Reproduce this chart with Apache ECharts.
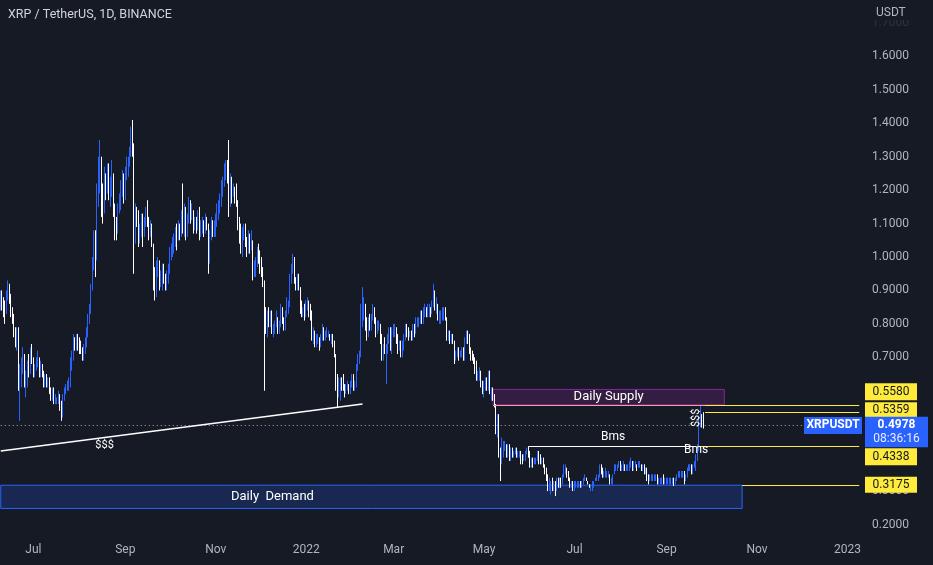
<!DOCTYPE html>
<html>
<head>
<meta charset="utf-8">
<script src="https://cdn.jsdelivr.net/npm/echarts@6/dist/echarts.min.js"></script>
<style>
html,body{margin:0;padding:0;background:#161a25;}
#chart{width:933px;height:565px;}
</style>
</head>
<body>
<div id="chart"></div>
<script>
// ---- data (daily XRP/USDT) ----
const startDate = '2021-06-09';
const endDate = '2023-01-09';
const firstOpen = 0.86;
const close = [
 // Jun 2021 (9-30)
 .88,.86,.85,.84,.89,.91,.89,.83,.82,.78,.75,.78,.62,.62,.67,.70,.63,.63,.68,.66,.71,.70,
 // Jul 2021
 .66,.67,.69,.69,.65,.67,.65,.62,.64,.62, .63,.60,.59,.60,.57,.57,.57,.58,.55,.53, .58,.60,.61,.62,.62,.68,.70,.75,.74,.75, .74,
 // Aug 2021
 .73,.72,.70,.73,.74,.77,.81,.84,.90,.98, 1.05,1.00,1.18,1.24,1.27,1.20,1.16,1.24,1.21,1.26, 1.20,1.22,1.24,1.15,1.10,1.08,1.14,1.16,1.20,1.22, 1.19,
 // Sep 2021
 1.25,1.26,1.28,1.31,1.38,1.33,1.10,1.13,1.12,1.05, 1.08,1.12,1.07,1.10,1.14,1.11,1.07,1.09,1.04,.93, .89,.97,.98,.92,.95,.95,.93,.91,.94,.96,
 // Oct 2021
 1.01,1.02,1.04,1.05,1.07,1.06,1.08,1.07,1.12,1.08, 1.14,1.08,1.11,1.15,1.12,1.13,1.09,1.10,1.09,1.12, 1.07,1.08,1.10,1.08,1.11,1.09,1.00,1.06,1.10,1.08, 1.09,
 // Nov 2021
 1.11,1.14,1.15,1.17,1.20,1.22,1.25,1.27,1.25,1.19, 1.22,1.20,1.20,1.19,1.17,1.10,1.08,1.02,1.07,1.08, 1.05,1.02,1.06,1.03,1.05,.95,.97,.98,1.01,1.00,
 // Dec 2021
 .98,.96,.93,.82,.81,.82,.80,.83,.78,.78, .80,.82,.78,.80,.84,.81,.79,.83,.85,.86, .93,.96,.99,.93,.92,.93,.91,.85,.83,.84, .83,
 // Jan 2022
 .86,.86,.84,.83,.77,.77,.75,.75,.75,.74, .76,.78,.76,.77,.77,.77,.76,.76,.74,.71, .63,.60,.63,.63,.62,.61,.60,.61,.61,.60, .62,
 // Feb 2022
 .64,.61,.62,.67,.69,.71,.83,.84,.84,.80, .77,.81,.79,.82,.84,.81,.78,.79,.80,.75, .71,.73,.71,.73,.75,.76,.73,.78,
 // Mar 2022
 .78,.78,.76,.73,.74,.72,.72,.76,.79,.78, .77,.77,.76,.79,.78,.80,.80,.81,.82,.81, .83,.84,.83,.84,.84,.83,.85,.86,.85,.85, .82,
 // Apr 2022
 .82,.82,.83,.84,.82,.76,.77,.75,.76,.75, .70,.71,.72,.70,.71,.72,.70,.75,.77,.75, .72,.71,.70,.69,.68,.64,.65,.65,.62,.60,
 // May 2022
 .62,.63,.61,.65,.60,.60,.58,.56,.48,.50, .41,.40,.43,.43,.44,.41,.43,.40,.42,.41, .42,.42,.41,.41,.41,.40,.39,.40,.41,.42, .41,
 // Jun 2022
 .38,.39,.38,.39,.39,.41,.40,.39,.39,.38, .36,.35,.31,.32,.32,.31,.32,.31,.33,.32, .33,.32,.34,.36,.36,.35,.33,.32,.32,.31,
 // Jul 2022
 .32,.32,.32,.33,.32,.33,.33,.34,.33,.32, .31,.31,.32,.33,.34,.34,.34,.37,.36,.35, .35,.35,.35,.35,.33,.33,.35,.37,.37,.37, .38,
 // Aug 2022
 .37,.37,.38,.37,.37,.37,.38,.39,.37,.38, .38,.37,.38,.38,.37,.37,.36,.37,.34,.33, .34,.34,.34,.34,.34,.33,.33,.33,.34,.33, .33,
 // Sep 2022 (1-26)
 .33,.33,.33,.33,.33,.32,.33,.34,.35,.35, .35,.35,.33,.34,.36,.37,.37,.36,.37,.38, .39,.43,.50,.53,.51,.4978
];
const high = [
 .90,.90,.88,.87,.90,.93,.92,.89,.85,.83,.79,.79,.79,.68,.70,.73,.71,.66,.69,.71,.73,.74,
 .70,.68,.70,.72,.70,.69,.68,.66,.65,.65, .64,.64,.61,.61,.61,.59,.58,.60,.59,.57, .59,.61,.62,.63,.64,.70,.72,.77,.76,.77, .77,
 .76,.75,.73,.74,.76,.79,.83,.86,.92,1.00, 1.08,1.08,1.22,1.30,1.35,1.30,1.22,1.27,1.25,1.28, 1.28,1.24,1.29,1.25,1.16,1.12,1.16,1.19,1.23,1.26, 1.25,
 1.27,1.30,1.30,1.33,1.39,1.41,1.34,1.16,1.15,1.14, 1.10,1.13,1.13,1.12,1.15,1.17,1.12,1.11,1.10,1.04, .97,.99,1.00,.99,.96,.98,.98,.95,.96,.98,
 1.03,1.04,1.06,1.07,1.09,1.10,1.11,1.10,1.14,1.22, 1.16,1.15,1.13,1.18,1.17,1.16,1.14,1.12,1.12,1.14, 1.15,1.11,1.12,1.11,1.13,1.12,1.10,1.08,1.12,1.11, 1.11,
 1.13,1.16,1.17,1.19,1.23,1.24,1.28,1.29,1.29,1.35, 1.25,1.24,1.22,1.21,1.22,1.17,1.12,1.10,1.09,1.10, 1.10,1.06,1.08,1.07,1.08,1.05,.99,1.00,1.03,1.04,
 1.02,1.00,.97,.93,.85,.84,.85,.84,.84,.80, .81,.84,.82,.81,.86,.85,.82,.84,.88,.87, .95,.98,1.01,1.00,.94,.95,.95,.91,.87,.85, .86,
 .87,.88,.87,.86,.84,.79,.78,.77,.77,.76, .77,.80,.79,.78,.79,.78,.77,.77,.77,.75, .71,.65,.64,.64,.64,.65,.62,.62,.63,.62, .63,
 .65,.65,.63,.68,.71,.72,.86,.91,.88,.86, .82,.82,.83,.83,.86,.85,.82,.81,.81,.80, .77,.74,.76,.74,.77,.79,.79,.79,
 .80,.80,.79,.77,.75,.75,.75,.77,.80,.80, .79,.78,.78,.80,.80,.82,.82,.82,.84,.84, .85,.86,.85,.86,.86,.85,.87,.92,.90,.88, .86,
 .84,.84,.85,.85,.85,.82,.78,.78,.77,.77, .75,.72,.73,.73,.72,.73,.73,.76,.78,.78, .77,.73,.72,.71,.70,.69,.66,.67,.66,.63,
 .63,.64,.64,.66,.66,.61,.61,.59,.56,.53, .53,.43,.46,.45,.45,.44,.44,.44,.43,.43, .42,.43,.43,.42,.42,.42,.41,.41,.42,.43, .4338,
 .42,.40,.40,.40,.40,.42,.42,.41,.40,.40, .38,.37,.35,.34,.33,.34,.33,.33,.34,.34, .34,.34,.35,.38,.38,.37,.36,.34,.33,.33,
 .33,.33,.33,.33,.33,.33,.34,.35,.34,.33, .32,.32,.33,.33,.34,.35,.35,.38,.38,.37, .36,.37,.36,.36,.35,.34,.35,.38,.38,.38, .39,
 .39,.38,.39,.38,.38,.38,.39,.40,.39,.39, .39,.38,.39,.39,.38,.38,.38,.37,.37,.35, .35,.35,.35,.35,.35,.35,.34,.34,.34,.35, .34,
 .34,.34,.34,.34,.34,.34,.34,.35,.36,.36, .36,.36,.36,.35,.37,.38,.38,.38,.38,.39, .41,.44,.52,.558,.53,.5359
];
const low = [
 .84,.84,.82,.80,.83,.87,.86,.82,.80,.76,.73,.72,.60,.51,.61,.65,.61,.58,.61,.64,.65,.68,
 .64,.64,.66,.67,.64,.64,.64,.61,.61,.61, .61,.59,.57,.57,.56,.56,.56,.56,.54,.51, .52,.57,.59,.60,.60,.61,.66,.69,.72,.72, .72,
 .71,.71,.69,.69,.71,.73,.76,.80,.83,.90, .96,.94,.99,1.15,1.19,1.12,1.10,1.13,1.17,1.19, 1.17,1.15,1.18,1.12,1.05,1.05,1.07,1.13,1.14,1.18, 1.16,
 1.17,1.23,1.24,1.27,1.30,1.30,.95,1.04,1.09,1.03, 1.04,1.06,1.03,1.06,1.09,1.09,1.05,1.06,1.03,.90, .87,.88,.94,.90,.91,.90,.92,.90,.90,.92,
 .95,.99,1.00,1.01,1.03,1.02,1.05,1.05,1.06,1.07, 1.06,1.05,1.06,1.10,1.10,1.11,1.07,1.08,1.07,1.08, 1.05,1.06,1.07,1.06,1.07,1.08,.95,.98,1.05,1.06, 1.06,
 1.06,1.09,1.11,1.13,1.15,1.18,1.21,1.23,1.22,1.12, 1.15,1.16,1.18,1.16,1.15,1.08,1.04,1.01,1.00,1.05, 1.03,1.00,1.01,1.01,1.02,.93,.94,.94,.97,.98,
 .95,.94,.91,.60,.77,.76,.79,.79,.77,.76, .77,.79,.77,.77,.79,.80,.78,.78,.82,.83, .85,.92,.95,.92,.90,.90,.90,.83,.82,.82, .81,
 .82,.84,.82,.81,.75,.74,.73,.73,.74,.72, .73,.75,.75,.75,.76,.76,.75,.74,.73,.70, .60,.55,.58,.57,.60,.60,.58,.59,.60,.59, .59,
 .61,.60,.60,.61,.66,.68,.70,.79,.81,.78, .75,.76,.78,.78,.81,.80,.76,.77,.78,.74, .69,.69,.71,.62,.71,.74,.72,.71,
 .76,.76,.74,.71,.72,.70,.70,.72,.75,.76, .75,.76,.75,.75,.76,.77,.79,.79,.80,.80, .80,.82,.82,.82,.82,.82,.83,.85,.84,.83, .81,
 .80,.80,.81,.81,.81,.75,.75,.74,.74,.74, .68,.69,.70,.69,.70,.70,.69,.69,.74,.74, .71,.69,.69,.68,.65,.63,.63,.63,.61,.59,
 .58,.60,.60,.60,.59,.57,.57,.55,.47,.46, .40,.33,.38,.40,.42,.40,.40,.39,.39,.40, .40,.41,.40,.40,.40,.38,.38,.39,.39,.41, .40,
 .37,.37,.37,.38,.38,.39,.38,.38,.38,.37, .35,.33,.30,.30,.29,.30,.30,.285,.30,.31, .31,.31,.32,.34,.35,.34,.33,.31,.31,.30,
 .30,.31,.31,.31,.31,.31,.32,.33,.33,.32, .31,.30,.30,.31,.33,.33,.33,.34,.35,.34, .34,.34,.34,.34,.32,.32,.32,.35,.36,.36, .37,
 .36,.36,.36,.36,.36,.36,.36,.37,.36,.36, .37,.36,.37,.37,.36,.36,.35,.35,.33,.32, .33,.33,.33,.33,.33,.32,.32,.32,.32,.32, .32,
 .32,.32,.32,.32,.32,.315,.32,.33,.34,.34, .34,.34,.32,.33,.34,.36,.36,.35,.35,.37, .36,.39,.42,.49,.49,.487
];
const monthNames = ['Jan','Feb','Mar','Apr','May','Jun','Jul','Aug','Sep','Oct','Nov','Dec'];
const labelMonths = [1,3,5,7,9,11];
const lastPrice = 0.4978;
const levels = [0.5580, 0.5359, 0.4338, 0.3175];
const supply = {from:'2022-05-07', to:'2022-10-10', top:0.604, bottom:0.558};
const demand = {from:'2021-06-09', to:'2022-10-22', top:0.3175, bottom:0.248};
const trend = {from:['2021-06-09',0.42], to:['2022-02-08',0.5605]};
const bms = {from:'2022-05-31', to:'2022-09-21', price:0.4338};

// ---- categories ----
const cats = [];
for (let t = Date.parse(startDate+'T00:00:00Z'); t <= Date.parse(endDate+'T00:00:00Z'); t += 86400000) {
  cats.push(new Date(t).toISOString().slice(0,10));
}
const lastCat = cats[cats.length-1];
const candles = close.map((c,i) => {
  const o = i === 0 ? firstOpen : close[i-1];
  return [o, c, Math.min(low[i], o, c), Math.max(high[i], o, c)];
});

const FONT = 'Roboto';
const chart = echarts.init(document.getElementById('chart'), null, {renderer:'canvas'});
const option = {
  backgroundColor: '#161a25',
  animation: false,
  grid: {left:0, right:73, top:23, bottom:40.5},
  xAxis: {
    type:'category', data:cats, boundaryGap:true,
    axisLine:{show:false}, axisTick:{show:false}, splitLine:{show:false},
    axisLabel:{
      margin:19, color:'#b2b5be', fontSize:12, fontFamily:FONT,
      interval:(i, v) => { const m = +v.slice(5,7); return v.slice(8)==='01' && labelMonths.includes(m); },
      formatter:(v) => { const m = +v.slice(5,7); return m===1 ? v.slice(0,4) : monthNames[m-1]; }
    }
  },
  yAxis: {
    type:'value', position:'right', min:0.2, max:1.7, interval:0.1, scale:true,
    axisLine:{show:false}, axisTick:{show:false}, splitLine:{show:false},
    axisLabel:{
      margin:12, fontSize:12, fontFamily:FONT,
      color:(v) => (+v > 1.65 ? '#30343e' : '#b2b5be'),
      formatter:(v) => (+v).toFixed(4)
    }
  },
  series: [{
    type:'candlestick', data:candles, barWidth:1,
    itemStyle:{color:'#2962ff', color0:'#ffffff', borderColor:'#2962ff', borderColor0:'#ffffff', borderWidth:1},
    markArea:{
      silent:true,
      data:[
        [{xAxis:supply.from, yAxis:supply.top,
          itemStyle:{color:'rgba(156,39,176,0.22)', borderColor:'rgba(156,39,176,0.85)', borderWidth:1},
          label:{show:true, position:'inside', formatter:'Daily Supply', color:'#ffffff', fontSize:13, fontFamily:FONT}},
         {xAxis:supply.to, yAxis:supply.bottom}],
        [{xAxis:demand.from, yAxis:demand.top,
          itemStyle:{color:'rgba(41,98,255,0.2)', borderColor:'#2962ff', borderWidth:1},
          label:{show:true, position:'inside', offset:[-99,0], formatter:'Daily  Demand', color:'#ffffff', fontSize:13, fontFamily:FONT}},
         {xAxis:demand.to, yAxis:demand.bottom}]
      ]
    },
    markLine:{
      silent:true, symbol:['none','none'], label:{show:false},
      data:[
        [{coord:[cats[0], lastPrice], lineStyle:{color:'rgba(235,215,225,0.75)', type:[1,3], width:1}}, {coord:[lastCat, lastPrice]}],
        [{coord:[supply.from, supply.bottom], lineStyle:{color:'#f3a48f', type:'solid', width:1}}, {coord:[supply.to, supply.bottom]}],
        [{coord:['2022-09-27', levels[0]], lineStyle:{color:'#ffeb3b', type:'solid', width:1}}, {coord:[lastCat, levels[0]]}],
        [{coord:['2022-09-27', levels[1]], lineStyle:{color:'#ffeb3b', type:'solid', width:1}}, {coord:[lastCat, levels[1]]}],
        [{coord:['2022-09-22', levels[2]], lineStyle:{color:'#ffeb3b', type:'solid', width:1}}, {coord:[lastCat, levels[2]]}],
        [{coord:[demand.to, levels[3]], lineStyle:{color:'#ffeb3b', type:'solid', width:1}}, {coord:[lastCat, levels[3]]}],
        [{coord:[bms.from, bms.price], lineStyle:{color:'#ffffff', type:'solid', width:1}}, {coord:[bms.to, bms.price]}],
        [{coord:trend.from, lineStyle:{color:'#ffffff', type:'solid', width:1.5}}, {coord:trend.to}]
      ]
    },
    markPoint:{
      silent:true, symbol:'circle', symbolSize:1, itemStyle:{color:'rgba(0,0,0,0)'},
      label:{show:true, position:'inside', color:'#ffffff', fontSize:12, fontFamily:FONT},
      data:[
        {coord:['2021-08-18', 0.437], label:{formatter:'$$$', fontSize:11}},
        {coord:['2022-07-27', 0.462], label:{formatter:'Bms', fontSize:12}},
        {coord:['2022-09-21', 0.423], label:{formatter:'Bms', fontSize:12}},
        {coord:['2022-09-21', 0.519], label:{formatter:'$$$', fontSize:11, rotate:90}}
      ]
    }
  }]
};
chart.setOption(option);

// ---- price-scale labels (right side), drawn on an upper layer ----
const yOf = p => chart.convertToPixel({yAxisIndex:0}, p);
function box(x, yc, w, h, fill, lines) {
  const kids = [{type:'rect', zlevel:1, z:100, shape:{x:x, y:yc-h/2, width:w, height:h}, style:{fill:fill}}];
  lines.forEach(l => kids.push({type:'text', zlevel:1, z:101, style:{text:l.t, x:x+w/2, y:yc+l.dy, align:'center', verticalAlign:'middle', fill:l.c, font:l.f}}));
  return {type:'group', zlevel:1, z:100, children:kids};
}
const yellowFont = '12px ' + FONT;
const pY = yOf(lastPrice);
chart.setOption({
  graphic:[
    {type:'text', zlevel:1, z:100, style:{text:'XRP / TetherUS, 1D, BINANCE', x:8, y:15, verticalAlign:'middle', fill:'#d1d4dc', font:'12.5px ' + FONT}},
    {type:'rect', zlevel:1, z:99, shape:{x:862, y:0, width:71, height:20}, style:{fill:'#161a25'}},
    {type:'text', zlevel:1, z:100, style:{text:'USDT', x:876, y:13, verticalAlign:'middle', fill:'#b2b5be', font:'12px ' + FONT}},
    box(865, yOf(levels[0]) - 13, 52, 17, '#ffeb3b', [{t:'0.5580', dy:0, c:'#131722', f:yellowFont}]),
    box(865, yOf(levels[1]) - 2, 52, 16, '#ffeb3b', [{t:'0.5359', dy:0, c:'#131722', f:yellowFont}]),
    box(865, yOf(levels[2]) + 10.5, 52, 17, '#ffeb3b', [{t:'0.4338', dy:0, c:'#131722', f:yellowFont}]),
    box(865, yOf(levels[3]) - 0.5, 52, 16, '#ffeb3b', [{t:'0.3175', dy:0, c:'#131722', f:yellowFont}]),
    box(865, pY + 7, 63, 30.5, '#2962ff', [
      {t:'0.4978', dy:-7, c:'#ffffff', f:'bold 12px ' + FONT},
      {t:'08:36:16', dy:7, c:'#e8edff', f:'12px ' + FONT}
    ]),
    box(804, pY + 0.5, 58, 17, '#2962ff', [{t:'XRPUSDT', dy:0, c:'#ffffff', f:'bold 12px ' + FONT}])
  ]
});
</script>
</body>
</html>
